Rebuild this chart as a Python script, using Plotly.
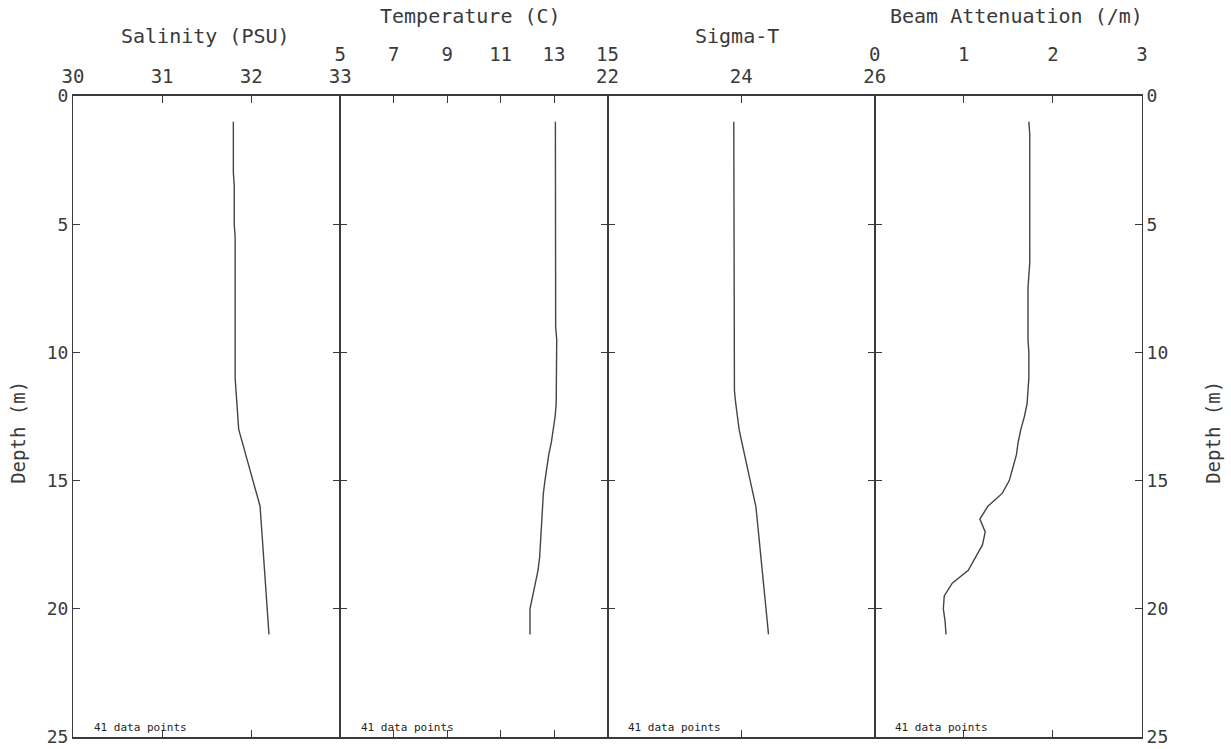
import plotly.graph_objects as go

depth = [1.0, 1.5, 2.0, 2.5, 3.0, 3.5, 4.0, 4.5, 5.0, 5.5, 6.0, 6.5, 7.0, 7.5,
         8.0, 8.5, 9.0, 9.5, 10.0, 10.5, 11.0, 11.5, 12.0, 12.5, 13.0, 13.5,
         14.0, 14.5, 15.0, 15.5, 16.0, 16.5, 17.0, 17.5, 18.0, 18.5, 19.0,
         19.5, 20.0, 20.5, 21.0]

salinity = [31.80, 31.80, 31.80, 31.80, 31.80, 31.81, 31.81, 31.81, 31.81, 31.82,
            31.82, 31.82, 31.82, 31.82, 31.82, 31.82, 31.82, 31.82, 31.82, 31.82,
            31.82, 31.83, 31.84, 31.85, 31.86, 31.90, 31.94, 31.98, 32.02, 32.06,
            32.10, 32.11, 32.12, 32.13, 32.14, 32.15, 32.16, 32.17, 32.18, 32.19,
            32.20]

temperature = [13.05, 13.05, 13.05, 13.05, 13.05, 13.05, 13.05, 13.05, 13.05, 13.06,
               13.06, 13.06, 13.06, 13.06, 13.06, 13.06, 13.06, 13.10, 13.10, 13.10,
               13.10, 13.10, 13.08, 13.04, 12.98, 12.90, 12.80, 12.72, 12.66, 12.60,
               12.57, 12.55, 12.52, 12.49, 12.46, 12.40, 12.30, 12.18, 12.10, 12.10,
               12.10]

sigma_t = [23.89, 23.89, 23.89, 23.89, 23.89, 23.89, 23.89, 23.89, 23.89, 23.90,
           23.90, 23.90, 23.90, 23.90, 23.90, 23.90, 23.90, 23.90, 23.90, 23.89,
           23.89, 23.90, 23.92, 23.94, 23.97, 24.01, 24.05, 24.09, 24.13, 24.18,
           24.22, 24.24, 24.26, 24.28, 24.30, 24.32, 24.34, 24.36, 24.38, 24.40,
           24.41]

beam = [1.73, 1.74, 1.74, 1.74, 1.74, 1.74, 1.74, 1.74, 1.74, 1.74,
        1.74, 1.74, 1.73, 1.72, 1.72, 1.72, 1.72, 1.72, 1.73, 1.73,
        1.73, 1.72, 1.71, 1.68, 1.64, 1.61, 1.59, 1.55, 1.51, 1.43,
        1.27, 1.18, 1.24, 1.21, 1.13, 1.05, 0.87, 0.78, 0.77, 0.79,
        0.80]

panel_titles = ["Salinity (PSU)", "Temperature (C)", "Sigma-T", "Beam Attenuation (/m)"]
panel_ranges = [[30, 33], [5, 15], [22, 26], [0, 3]]
panel_ticks = [[30, 31, 32, 33], [5, 7, 9, 11, 13, 15], [22, 24, 26], [0, 1, 2, 3]]
depth_ticks = [0, 5, 10, 15, 20, 25]
note_text = "41 data points"

series = [salinity, temperature, sigma_t, beam]

FONT = "DejaVu Sans Mono"
INK = "#3a3a3a"
LINE = "#3a3a3a"

fig = go.Figure()
domains = [[0.0, 0.25], [0.25, 0.5], [0.5, 0.75], [0.75, 1.0]]

for i, vals in enumerate(series):
    n = "" if i == 0 else str(i + 1)
    fig.add_trace(go.Scatter(x=vals, y=depth, mode="lines",
                             line=dict(color="#444444", width=1.4),
                             xaxis="x" + n, yaxis="y" + n, showlegend=False))
    standoff = 4 if i % 2 == 0 else 26
    fig.layout["xaxis" + n] = dict(
        domain=domains[i], range=panel_ranges[i], side="top",
        anchor="y" + n, tickmode="array", tickvals=panel_ticks[i],
        ticks="inside", ticklen=7, tickwidth=1.2, tickcolor=LINE,
        showline=True, linecolor=LINE, linewidth=1.5, mirror="ticks",
        showgrid=False, zeroline=False, ticklabelstandoff=standoff,
        automargin=False,
        tickfont=dict(family=FONT, size=19, color=INK))
    yax = dict(
        range=[25, 0], anchor="x" + n, tickmode="array", tickvals=depth_ticks,
        ticks="inside", ticklen=7, tickwidth=1.2, tickcolor=LINE,
        showline=True, linecolor=LINE, linewidth=1, mirror="ticks",
        showgrid=False, zeroline=False, automargin=False,
        tickfont=dict(family=FONT, size=18, color=INK))
    if i == 0:
        yax.update(side="left", showticklabels=True)
    elif i == 3:
        yax.update(side="right", showticklabels=True)
    else:
        yax.update(showticklabels=False)
    if i > 0:
        yax["matches"] = "y"
    fig.layout["yaxis" + n] = yax

# panel titles
title_pos = [(0.1235, 1.0936), (0.3714, 1.1248), (0.621, 1.0936), (0.883, 1.1248)]
for t, (px, py) in zip(panel_titles, title_pos):
    fig.add_annotation(text=t, xref="paper", yref="paper", x=px, y=py,
                       xanchor="center", yanchor="middle", showarrow=False,
                       font=dict(family=FONT, size=20, color=INK))

# depth titles
for px in (-0.0515, 1.0664):
    fig.add_annotation(text="Depth (m)", xref="paper", yref="paper", x=px, y=0.476,
                       textangle=-90, xanchor="center", yanchor="middle",
                       showarrow=False, font=dict(family=FONT, size=19, color=INK))

# data point notes
for i in range(4):
    n = "" if i == 0 else str(i + 1)
    fig.add_annotation(text=note_text, xref="x" + n + " domain", yref="paper",
                       x=0.07, y=0.0156, xanchor="left", yanchor="middle",
                       showarrow=False, font=dict(family=FONT, size=11, color="#222222"))

fig.update_layout(width=1231, height=749,
                  margin=dict(l=73, r=89, t=96, b=12),
                  paper_bgcolor="white", plot_bgcolor="white")

fig.write_html("out.html")
